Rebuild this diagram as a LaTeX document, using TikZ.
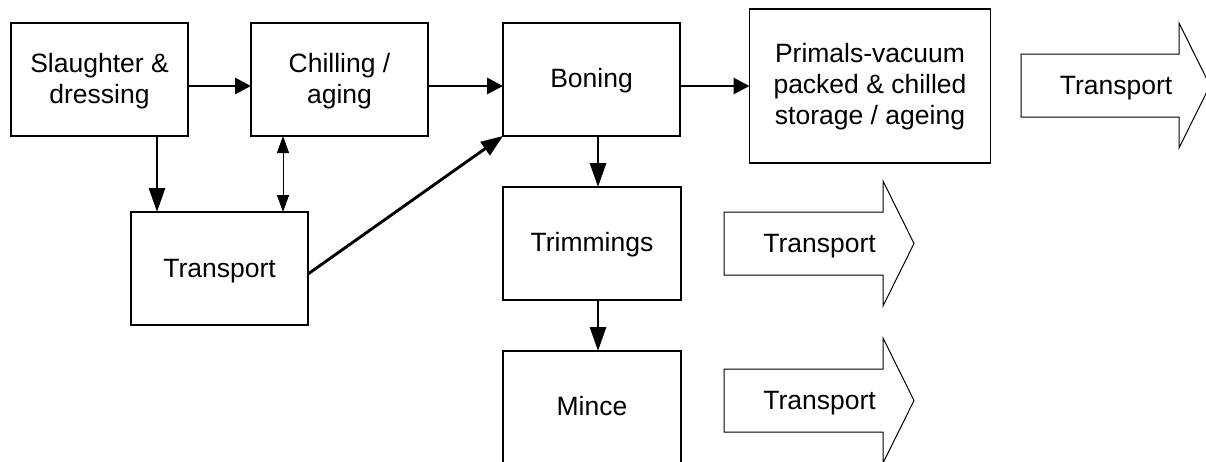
\documentclass[tikz,border=0pt]{standalone}
\usepackage{fontspec}
\setmainfont{Liberation Sans}
\usetikzlibrary{arrows.meta}
\newcommand{\twolines}[2]{\begin{tabular}[b]{@{}c@{}}#1\\#2\end{tabular}}
\newcommand{\threelines}[3]{\begin{tabular}[b]{@{}c@{}}#1\\#2\\#3\end{tabular}}
\begin{document}
\begin{tikzpicture}[x=1pt,y=-1pt,
  font=\fontsize{26.5}{31}\selectfont,
  box/.style={draw, line width=1.6pt, inner sep=0pt, outer sep=0pt},
  hflow/.style={line width=2.9pt, -{Triangle[length=16pt,width=16pt]}},
  vflow/.style={line width=2.9pt, -{Triangle[length=24pt,width=16pt]}},
  dflow/.style={line width=2.9pt, -{Triangle[length=22pt,width=16pt]}},
  thinflow/.style={line width=1pt, {Triangle[length=17pt,width=12pt]}-{Triangle[length=17pt,width=12pt]}},
  fat/.style={draw, line width=1pt, line join=miter},
  lbl/.style={inner sep=0pt, anchor=base}]
\useasboundingbox (0,0) rectangle (1206,461);
\clip (0,0) rectangle (1206,461);
% boxes
\node[box, minimum width=177pt, minimum height=113pt] (sl) at (99.5,79.5) {};
\node[box, minimum width=177pt, minimum height=113pt] (ch) at (339.5,79.5) {};
\node[box, minimum width=177pt, minimum height=113pt] (bo) at (591.5,79.5) {};
\node[box, minimum width=241pt, minimum height=154pt] (pr) at (870,86) {};
\node[box, minimum width=177pt, minimum height=113pt] (tr) at (219.5,268.5) {};
\node[box, minimum width=178pt, minimum height=113pt] (tm) at (592,243.5) {};
\node[box, minimum width=178pt, minimum height=113pt] (mi) at (592,407.5) {};
% box texts
\node[lbl] (slT) at (99.5,103) {\twolines{Slaughter \&}{dressing}};
\node[lbl] (chT) at (339.5,103) {\twolines{Chilling /}{aging}};
\node[lbl] (boT) at (591.5,87) {Boning};
\node[lbl] (prT) at (870,124.5) {\threelines{Primals-vacuum}{packed \& chilled}{storage / ageing}};
\node[lbl] (trT) at (219.5,277) {Transport};
\node[lbl] (tmT) at (592,251.5) {Trimmings};
\node[lbl] (miT) at (592,415) {Mince};
% connectors
\draw[hflow] ([yshift=-6.5pt]sl.east) -- ([yshift=-6.5pt]ch.west);
\draw[hflow] ([yshift=-6.5pt]ch.east) -- ([yshift=-6.5pt]bo.west);
\draw[hflow] ([yshift=-6.5pt]bo.east) -- (pr.west);
\coordinate (a1) at ([xshift=57.5pt]sl.south);
\draw[vflow] (a1) -- (a1 |- tr.north);
\coordinate (a2) at ([xshift=-56.5pt]ch.south);
\draw[thinflow] (a2) -- (a2 |- tr.north);
\draw[dflow] ([yshift=-5.5pt]tr.east) -- (bo.south west);
\coordinate (a3) at ([xshift=6.5pt]bo.south);
\draw[vflow] (a3) -- (a3 |- tm.north);
\coordinate (a4) at ([xshift=6pt]tm.south);
\draw[vflow] (a4) -- (a4 |- mi.north);
% block arrows
\draw[fat] (1021,54) -- (1179,54) -- (1179,23) -- (1210,85.5) -- (1179,148) -- (1179,117) -- (1021,117) -- cycle;
\node[lbl] (t1) at (1116,94) {Transport};
\draw[fat] (724,212) -- (883,212) -- (883,181) -- (914,243.5) -- (883,306) -- (883,275) -- (724,275) -- cycle;
\node[lbl] (t2) at (819.5,252.5) {Transport};
\draw[fat] (724,369) -- (883,369) -- (883,338) -- (914,400.5) -- (883,463) -- (883,432) -- (724,432) -- cycle;
\node[lbl] (t3) at (819.5,409) {Transport};
\end{tikzpicture}
\end{document}
